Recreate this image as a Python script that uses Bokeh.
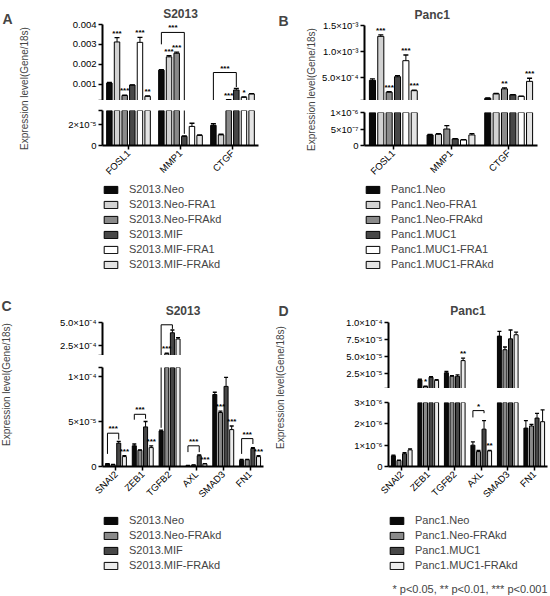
import math
from bokeh.plotting import figure
from bokeh.models import (FactorRange, Range1d, FixedTicker, Legend, LegendItem,
                          Label, ColumnDataSource)
from bokeh.transform import dodge
from bokeh.layouts import row, column
from bokeh.embed import file_html
from bokeh.resources import INLINE
from bokeh.core.properties import value

FONT = "Liberation Sans"
YLABEL = "Expression level(Gene/18s)"
FOOTNOTE = "* p<0.05, ** p<0.01, *** p<0.001"

# ---------------- Panel A : S2013 ----------------
A_TITLE = "S2013"
A_CATS = ["FOSL1", "MMP1", "CTGF"]
A_SERIES = ["S2013.Neo", "S2013.Neo-FRA1", "S2013.Neo-FRAkd",
            "S2013.MIF", "S2013.MIF-FRA1", "S2013.MIF-FRAkd"]
A_COLORS = ["#0a0a0a", "#d2d2d2", "#8a8a8a", "#474747", "#ffffff", "#e4e4e4"]
A_VALUES = [
    [1.05e-3, 1.70e-3, 1.9e-5],
    [3.12e-3, 2.37e-3, 1.0e-5],
    [4.2e-4, 2.55e-3, 2.0e-4],
    [9.5e-4, 8.6e-6, 7.0e-4],
    [3.10e-3, 1.8e-5, 3.3e-4],
    [3.8e-4, 9.5e-6, 5.0e-4],
]
A_ERRORS = [
    [3e-5, 2e-5, 1.5e-6],
    [2.2e-4, 6e-5, 6e-7],
    [2e-5, 6e-5, 1e-5],
    [1e-5, 5e-7, 8e-5],
    [2.5e-4, 3e-6, 2e-5],
    [2e-5, 5e-7, 2e-5],
]
A_STARS = [("FOSL1", 1, "***"), ("FOSL1", 2, "***"), ("FOSL1", 4, "***"), ("FOSL1", 5, "**"),
           ("MMP1", 1, "***"), ("MMP1", 2, "***"), ("CTGF", 2, "***"), ("CTGF", 4, "*")]
# (category, from series, to series, bracket level, left leg end, right leg end, label)
A_BRACKETS = [("MMP1", 0, 3, 3.6e-3, 3.0e-3, 1.1e-5, "***"),
              ("CTGF", 0, 3, 1.58e-3, 4.0e-5, 8.5e-4, "***")]
A_TOP_RANGE = (1.7e-4, 4.0e-3)
A_TOP_TICKS = [1e-3, 2e-3, 3e-3, 4e-3]
A_TOP_LABELS = ["0.001", "0.002", "0.003", "0.004"]
A_BOT_RANGE = (0.0, 3.3e-5)
A_BOT_TICKS = [0.0, 2e-5]
A_BOT_LABELS = ["0", "2×10⁻⁵"]

# ---------------- Panel B : Panc1 ----------------
B_TITLE = "Panc1"
B_CATS = ["FOSL1", "MMP1", "CTGF"]
B_SERIES = ["Panc1.Neo", "Panc1.Neo-FRA1", "Panc1.Neo-FRAkd",
            "Panc1.MUC1", "Panc1.MUC1-FRA1", "Panc1.MUC1-FRAkd"]
B_COLORS = ["#0a0a0a", "#d2d2d2", "#8a8a8a", "#474747", "#ffffff", "#e4e4e4"]
B_VALUES = [
    [4.4e-4, 3.2e-7, 9.3e-5],
    [1.29e-3, 3.4e-7, 1.8e-4],
    [2.1e-4, 5.0e-7, 2.75e-4],
    [5.1e-4, 2.0e-7, 1.6e-4],
    [8.2e-4, 1.7e-7, 1.3e-4],
    [2.4e-4, 3.2e-7, 4.2e-4],
]
B_ERRORS = [
    [3e-5, 1.5e-8, 5e-6],
    [3e-5, 2e-8, 5e-6],
    [1e-5, 1.0e-7, 2e-5],
    [2e-5, 1e-8, 5e-6],
    [1.1e-4, 1e-8, 5e-6],
    [1e-5, 4e-8, 6e-5],
]
B_STARS = [("FOSL1", 1, "***"), ("FOSL1", 2, "***"), ("FOSL1", 4, "***"), ("FOSL1", 5, "***"),
           ("CTGF", 2, "**"), ("CTGF", 5, "***")]
B_BRACKETS = []
B_TOP_RANGE = (5.0e-5, 1.5e-3)
B_TOP_TICKS = [5e-4, 1e-3, 1.5e-3]
B_TOP_LABELS = ["5.0×10⁻⁴", "1.0×10⁻³", "1.5×10⁻³"]
B_BOT_RANGE = (0.0, 1.0e-6)
B_BOT_TICKS = [0.0, 5e-7, 1e-6]
B_BOT_LABELS = ["0", "5×10⁻⁷", "1×10⁻⁶"]

# ---------------- Panel C : S2013 ----------------
C_TITLE = "S2013"
C_CATS = ["SNAI2", "ZEB1", "TGFB2", "AXL", "SMAD3", "FN1"]
C_SERIES = ["S2013.Neo", "S2013.Neo-FRAkd", "S2013.MIF", "S2013.MIF-FRAkd"]
C_COLORS = ["#0a0a0a", "#8a8a8a", "#474747", "#ececec"]
C_VALUES = [
    [3e-6, 2.3e-5, 3.95e-5, 1.0e-6, 8.0e-5, 7e-6],
    [2e-6, 1.8e-5, 1.6e-4, 1.5e-6, 6.0e-5, 7.5e-6],
    [2.6e-5, 4.4e-5, 3.88e-4, 1.2e-5, 8.9e-5, 2.0e-5],
    [1.1e-5, 2.1e-5, 3.2e-4, 3e-6, 4.1e-5, 1.1e-5],
]
C_ERRORS = [
    [3e-7, 2e-6, 1e-6, 2e-7, 2.5e-6, 8e-7],
    [2e-7, 5e-7, 5e-6, 2e-7, 1.5e-6, 5e-7],
    [2e-6, 6e-6, 3e-5, 1e-6, 1e-5, 1e-6],
    [1e-6, 2e-6, 1.5e-5, 3e-7, 4e-6, 1e-6],
]
C_STARS = [("SNAI2", 3, "***"), ("ZEB1", 3, "***"), ("TGFB2", 1, "***"), ("AXL", 3, "***"),
           ("SMAD3", 1, "***"), ("SMAD3", 3, "***"), ("FN1", 3, "***")]
C_BRACKETS = [("SNAI2", 0, 2, 3.7e-5, 1.4e-5, 3.0e-5, "***"),
              ("ZEB1", 0, 2, 5.8e-5, 5.2e-5, 5.3e-5, "***"),
              ("TGFB2", 0, 2, 4.75e-4, 4.3e-5, 4.3e-4, "***"),
              ("AXL", 0, 2, 2.3e-5, 1.6e-5, 1.6e-5, "***"),
              ("FN1", 0, 2, 3.1e-5, 1.4e-5, 2.5e-5, "***")]
C_TOP_RANGE = (1.4e-4, 5.0e-4)
C_TOP_TICKS = [2.5e-4, 5e-4]
C_TOP_LABELS = ["2.5×10⁻⁴", "5.0×10⁻⁴"]
C_BOT_RANGE = (0.0, 1.1e-4)
C_BOT_TICKS = [0.0, 5e-5, 1e-4]
C_BOT_LABELS = ["0", "5×10⁻⁵", "1×10⁻⁴"]

# ---------------- Panel D : Panc1 ----------------
D_TITLE = "Panc1"
D_CATS = ["SNAI2", "ZEB1", "TGFB2", "AXL", "SMAD3", "FN1"]
D_SERIES = ["Panc1.Neo", "Panc1.Neo-FRAkd", "Panc1.MUC1", "Panc1.MUC1-FRAkd"]
D_COLORS = ["#0a0a0a", "#8a8a8a", "#474747", "#ececec"]
D_VALUES = [
    [5.0e-7, 1.57e-5, 2.6e-5, 1.0e-6, 8.0e-5, 1.8e-6],
    [2.8e-7, 6.0e-6, 2.1e-5, 7.0e-7, 6.0e-5, 1.9e-6],
    [6.0e-7, 1.95e-5, 2.1e-5, 1.75e-6, 7.6e-5, 2.27e-6],
    [7.8e-7, 1.5e-5, 4.4e-5, 7.3e-7, 8.2e-5, 2.1e-6],
]
D_ERRORS = [
    [3e-8, 1e-6, 2e-6, 1.5e-7, 7e-6, 3.5e-7],
    [2e-8, 5e-7, 1e-6, 5e-8, 4e-6, 7e-8],
    [5e-8, 1e-6, 2e-6, 4e-7, 1.3e-5, 2.2e-7],
    [5e-8, 1e-6, 3.5e-6, 3e-8, 4e-6, 5.5e-7],
]
D_STARS = [("ZEB1", 1, "*"), ("TGFB2", 3, "**"), ("AXL", 3, "**")]
D_BRACKETS = [("AXL", 0, 2, 2.62e-6, 2.3e-6, 2.5e-6, "*")]
D_TOP_RANGE = (3.0e-6, 1.0e-4)
D_TOP_TICKS = [2.5e-5, 5e-5, 7.5e-5, 1e-4]
D_TOP_LABELS = ["2.5×10⁻⁵", "5.0×10⁻⁵", "7.5×10⁻⁵", "1.0×10⁻⁴"]
D_BOT_RANGE = (0.0, 3.0e-6)
D_BOT_TICKS = [0.0, 1e-6, 2e-6, 3e-6]
D_BOT_LABELS = ["0", "1×10⁻⁶", "2×10⁻⁶", "3×10⁻⁶"]


def style_yaxis(p, ticks, labels, caps):
    ya = p.yaxis[0]
    ya.ticker = FixedTicker(ticks=sorted(ticks + caps))
    ov = {t: l for t, l in zip(ticks, labels)}
    for c in caps:
        ov[c] = ""
    ya.major_label_overrides = ov
    ya.axis_line_width = 2
    ya.axis_line_color = "black"
    ya.major_tick_line_width = 1.5
    ya.major_tick_out = 4
    ya.major_tick_in = 0
    ya.minor_tick_out = 0
    ya.minor_tick_in = 0
    ya.major_label_text_font = FONT
    ya.major_label_text_font_size = "9.5px"
    ya.major_label_text_color = "black"
    ya.major_label_standoff = 2


def bare(p):
    p.outline_line_color = None
    p.xgrid.visible = False
    p.ygrid.visible = False
    return p


def seg_fig(xr, yr, g, fh, btop, bbot, xaxis):
    p = figure(x_range=xr, y_range=Range1d(*yr),
               width=g["left"] + g["fw"] + g["right"], height=btop + fh + bbot,
               min_border_left=g["left"], min_border_right=g["right"],
               min_border_top=btop, min_border_bottom=bbot,
               toolbar_location=None, output_backend="svg",
               x_axis_location="below" if xaxis else None)
    return bare(p)


def label_fig(letter, g):
    w, h = g["labw"], g["h"]
    p = figure(width=w, height=h, x_range=Range1d(0, w), y_range=Range1d(0, h),
               min_border=0, x_axis_location=None, y_axis_location=None,
               toolbar_location=None, output_backend="svg")
    bare(p)
    p.add_layout(Label(x=g["lx"], y=g["ly"], text=letter, text_font=FONT, text_font_size="14px",
                       text_font_style="bold", text_baseline="top", text_align="left"))
    p.add_layout(Label(x=g["yx"], y=g["yy"], text=YLABEL, angle=math.pi / 2,
                       text_align="center", text_baseline="middle",
                       text_font=FONT, text_font_size="10px"))
    return p


def make_panel(letter, title, cats, series, colors, vals, errs, stars, brackets,
               trange, tticks, tlabels, brange, bticks, blabels, g, footnote=None):
    n = len(series)
    offs = [(i - (n - 1) / 2) * g["slot"] for i in range(n)]
    xr = FactorRange(factors=cats, range_padding=0)
    top = seg_fig(xr, trange, g, g["tfh"], g["tb"], 0, False)
    bot = seg_fig(xr, brange, g, g["bfh"], g["gap"], g["below"], True)

    top.title.text = title
    top.title.align = g["talign"]
    top.title.offset = g["toff"]
    top.title.text_font = FONT
    top.title.text_font_size = "12px"
    top.title.text_font_style = "bold"
    top.title.standoff = g["tstand"]

    tcaps = [trange[0]] + ([] if trange[1] in tticks else [trange[1]])
    bcaps = [] if brange[1] in bticks else [brange[1]]
    style_yaxis(top, tticks, tlabels, tcaps)
    style_yaxis(bot, bticks, blabels, bcaps)

    xa = bot.xaxis[0]
    xa.major_label_orientation = math.pi / 4
    xa.axis_line_width = 2
    xa.major_tick_line_width = 1.5
    xa.major_tick_out = 4
    xa.major_tick_in = 0
    xa.major_label_text_font = FONT
    xa.major_label_text_font_size = "9.5px"
    xa.major_label_text_color = "black"
    xa.major_label_standoff = 2

    for i in range(n):
        src = ColumnDataSource(dict(cat=cats, val=vals[i],
                                    hi=[v + e for v, e in zip(vals[i], errs[i])]))
        for p in (top, bot):
            xd = dodge("cat", offs[i], range=xr)
            p.vbar(x=xd, top="val", bottom=0, width=g["bw"], source=src,
                   fill_color=colors[i], line_color="black", line_width=1)
            p.segment(x0=xd, y0="val", x1=xd, y1="hi", source=src,
                      line_color="black", line_width=1)
            p.scatter(x=xd, y="hi", marker="dash", size=g["cap"], source=src,
                      line_color="black", line_width=1.3)

    def fig_for(y):
        return top if y >= trange[0] else bot

    for cat, si, lab in stars:
        ci = cats.index(cat)
        y = vals[si][ci] + errs[si][ci]
        p = fig_for(y)
        p.text(x=dodge("cat", offs[si], range=xr), y="y", text="t",
               source=ColumnDataSource(dict(cat=[cat], y=[y], t=[lab])),
               text_align="center", text_baseline="bottom",
               text_font=value(FONT), text_font_size="8px", text_font_style="bold")

    for cat, si, sj, lev, le, re_, lab in brackets:
        src = ColumnDataSource(dict(cat=[cat], lev=[lev], le=[le], re=[re_], t=[lab]))
        xi = dodge("cat", offs[si], range=xr)
        xj = dodge("cat", offs[sj], range=xr)
        for p in (top, bot):
            p.segment(x0=xi, y0="lev", x1=xj, y1="lev", source=src, line_color="black", line_width=1)
            p.segment(x0=xi, y0="lev", x1=xi, y1="le", source=src, line_color="black", line_width=1)
            p.segment(x0=xj, y0="lev", x1=xj, y1="re", source=src, line_color="black", line_width=1)
        p = fig_for(lev)
        p.text(x=dodge("cat", (offs[si] + offs[sj]) / 2, range=xr), y="lev", text="t", source=src,
               text_align="center", text_baseline="bottom",
               text_font=value(FONT), text_font_size="8px", text_font_style="bold")

    # legend figure: swatch renderers sit outside the visible range, only the legend shows them
    lw = g["left"] + g["fw"] + g["right"]
    lfw = lw - g["lleft"]
    lfh = g["lh"] - g["ltop"]
    leg = figure(width=lw, height=g["lh"], x_range=Range1d(0, lfw), y_range=Range1d(0, lfh),
                 min_border_left=g["lleft"], min_border_top=g["ltop"], min_border_right=0,
                 min_border_bottom=0, x_axis_location=None, y_axis_location=None,
                 toolbar_location=None, output_backend="svg")
    bare(leg)
    items = []
    for s, c in zip(series, colors):
        r = leg.vbar(x=[-1000], top=[-1000], bottom=[-1001], width=0.1,
                     fill_color=c, line_color="black", line_width=1)
        items.append(LegendItem(label=s, renderers=[r]))
    legend = Legend(items=items, orientation="vertical", location="top_left",
                    label_text_font=FONT, label_text_font_size="11px",
                    glyph_width=17, glyph_height=9, label_height=12, spacing=3,
                    label_standoff=10, padding=0, margin=0,
                    border_line_color=None, background_fill_alpha=0)
    leg.add_layout(legend)
    if footnote:
        leg.add_layout(Label(x=lfw, y=2, text=footnote, text_align="right", text_baseline="bottom",
                             text_font=FONT, text_font_size="11px"))

    lab = label_fig(letter, g)
    return row(lab, column(top, bot, leg))


GA = dict(labw=38, lx=2, ly=286, yx=24, yy=208, h=296,
          left=38, fw=182, right=17, tb=24, tfh=76, gap=10, bfh=35, below=38,
          lh=113, lleft=64, ltop=0,
          slot=0.147, bw=0.105, cap=5, tstand=8, talign="center", toff=0)
GB = dict(labw=42, lx=3, ly=284, yx=36, yy=207, h=296,
          left=47, fw=173, right=13, tb=25, tfh=75, gap=12, bfh=33, below=38,
          lh=113, lleft=39, ltop=0,
          slot=0.145, bw=0.105, cap=5, tstand=8, talign="left", toff=50)
GC = dict(labw=16, lx=1, ly=299, yx=6, yy=212, h=300,
          left=46, fw=201, right=12, tb=26, tfh=33, gap=12, bfh=101, below=38,
          lh=90, lleft=86, ltop=8,
          slot=0.21, bw=0.15, cap=4, tstand=9, talign="center", toff=0)
GD = dict(labw=20, lx=3, ly=294, yx=5, yy=209, h=300,
          left=48, fw=204, right=3, tb=26, tfh=66, gap=14, bfh=66, below=38,
          lh=90, lleft=93, ltop=8,
          slot=0.21, bw=0.15, cap=4, tstand=9, talign="center", toff=0)

pa = make_panel("A", A_TITLE, A_CATS, A_SERIES, A_COLORS, A_VALUES, A_ERRORS, A_STARS, A_BRACKETS,
                A_TOP_RANGE, A_TOP_TICKS, A_TOP_LABELS, A_BOT_RANGE, A_BOT_TICKS, A_BOT_LABELS, GA)
pb = make_panel("B", B_TITLE, B_CATS, B_SERIES, B_COLORS, B_VALUES, B_ERRORS, B_STARS, B_BRACKETS,
                B_TOP_RANGE, B_TOP_TICKS, B_TOP_LABELS, B_BOT_RANGE, B_BOT_TICKS, B_BOT_LABELS, GB)
pc = make_panel("C", C_TITLE, C_CATS, C_SERIES, C_COLORS, C_VALUES, C_ERRORS, C_STARS, C_BRACKETS,
                C_TOP_RANGE, C_TOP_TICKS, C_TOP_LABELS, C_BOT_RANGE, C_BOT_TICKS, C_BOT_LABELS, GC)
pd_ = make_panel("D", D_TITLE, D_CATS, D_SERIES, D_COLORS, D_VALUES, D_ERRORS, D_STARS, D_BRACKETS,
                 D_TOP_RANGE, D_TOP_TICKS, D_TOP_LABELS, D_BOT_RANGE, D_BOT_TICKS, D_BOT_LABELS, GD,
                 footnote=FOOTNOTE)

layout = column(row(pa, pb), row(pc, pd_))
open("out.html", "w").write(file_html(layout, INLINE))
